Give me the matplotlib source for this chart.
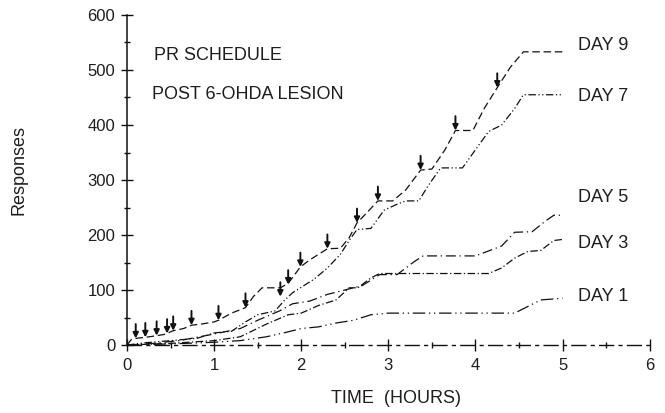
import matplotlib
matplotlib.use("Agg")
import matplotlib.pyplot as plt
from matplotlib.ticker import MultipleLocator

plt.rcParams['font.family'] = ['Liberation Sans', 'DejaVu Sans']

# ---- data (hours, cumulative responses) ----
day9_t = [0, 0.05, 0.1, 0.15, 0.21, 0.3, 0.34, 0.42, 0.46, 0.5, 0.53, 0.65, 0.74, 0.85, 1.0, 1.05,
          1.2, 1.36, 1.45, 1.55, 1.76, 1.85, 1.99, 2.1, 2.3, 2.45, 2.55, 2.64, 2.75, 2.88, 3.05,
          3.2, 3.37, 3.5, 3.65, 3.77, 3.97, 4.1, 4.25, 4.4, 4.55, 5.0]
day9_r = [0, 10, 12, 13, 14, 16, 17, 19, 21, 24, 26, 30, 36, 38, 42, 45,
          58, 68, 88, 104, 104, 112, 142, 155, 175, 176, 195, 222, 240, 262, 262,
          282, 318, 320, 355, 390, 390, 430, 468, 505, 533, 533]

day7_t = [0, 0.2, 0.5, 0.8, 1.0, 1.2, 1.36, 1.5, 1.7, 1.8, 1.9, 2.0, 2.15, 2.3, 2.45, 2.55, 2.64,
          2.8, 2.95, 3.1, 3.2, 3.35, 3.45, 3.6, 3.85, 4.0, 4.15, 4.3, 4.45, 4.55, 5.0]
day7_r = [0, 4, 8, 12, 22, 25, 42, 55, 62, 80, 95, 105, 120, 140, 165, 190, 210,
          212, 245, 256, 262, 262, 288, 322, 322, 355, 388, 400, 430, 455, 455]

day5_t = [0, 0.3, 0.6, 1.0, 1.3, 1.5, 1.75, 1.9, 2.1, 2.3, 2.5, 2.7, 2.9, 3.1, 3.3, 3.4, 4.0,
          4.3, 4.45, 4.65, 4.8, 4.9, 5.0]
day5_r = [0, 3, 8, 20, 30, 45, 62, 75, 80, 92, 100, 108, 128, 128, 152, 162, 162,
          180, 205, 206, 225, 236, 236]

day3_t = [0, 0.5, 1.0, 1.3, 1.6, 1.85, 2.0, 2.2, 2.4, 2.55, 2.65, 2.8, 2.9, 3.5, 4.15, 4.3,
          4.45, 4.6, 4.75, 4.9, 5.0]
day3_r = [0, 3, 8, 15, 38, 55, 58, 72, 82, 104, 104, 122, 130, 130, 130, 140,
          158, 170, 172, 190, 192]

day1_t = [0, 0.5, 1.0, 1.3, 1.6, 1.8, 2.0, 2.2, 2.4, 2.6, 2.8, 3.0, 4.45, 4.6, 4.75, 5.0]
day1_r = [0, 2, 5, 8, 15, 22, 30, 33, 40, 45, 55, 58, 58, 70, 82, 85]

# reinforcement arrows (time, response level at tip)
arrow_t = [0.1, 0.21, 0.34, 0.46, 0.53, 0.74, 1.05, 1.36, 1.76, 1.85, 1.99, 2.3, 2.64, 2.88,
           3.37, 3.77, 4.25]
arrow_r = [12, 14, 17, 21, 26, 36, 45, 68, 88, 110, 142, 175, 222, 262, 318, 390, 468]

labels = ["DAY 9", "DAY 7", "DAY 5", "DAY 3", "DAY 1"]
label_r = [544, 451, 269, 185, 89]

x_ticks = [0, 1, 2, 3, 4, 5, 6]
y_ticks = [0, 100, 200, 300, 400, 500, 600]

# ---- figure ----
fig = plt.figure(figsize=(6.65, 4.13), dpi=100)
ax = fig.add_axes([0.191, 0.1646, 0.786, 0.7991])

ink = '#111111'
txt = '#1e1e1e'
styles = [(0, (6, 3)), (0, (6, 2, 1, 2, 1, 2)), (0, (8, 3, 1, 3)), (0, (6, 2, 1, 2)),
          (0, (10, 3, 1, 3, 1, 3))]
series = [(day9_t, day9_r), (day7_t, day7_r), (day5_t, day5_r), (day3_t, day3_r), (day1_t, day1_r)]
for (t, r), ls in zip(series, styles):
    ax.plot(t, r, color=ink, lw=0.9, linestyle=ls)

for t, r in zip(arrow_t, arrow_r):
    ax.annotate('', xy=(t, r), xytext=(t, r + 26),
                arrowprops=dict(arrowstyle='-|>', lw=1.4, color=ink, mutation_scale=8,
                                shrinkA=0, shrinkB=0))

for lab, r in zip(labels, label_r):
    ax.text(5.18, r, lab, fontsize=13, color=txt, va='center', ha='left')

ax.text(0.31, 527, "PR SCHEDULE", fontsize=13, color=txt, va='center')
ax.text(0.29, 455, "POST 6-OHDA LESION", fontsize=13, color=txt, va='center')

ax.set_xlim(0, 6)
ax.set_ylim(0, 600)
ax.set_xticks(x_ticks)
ax.set_yticks(y_ticks)
ax.xaxis.set_minor_locator(MultipleLocator(0.5))
ax.yaxis.set_minor_locator(MultipleLocator(50))
ax.tick_params(axis='both', which='major', direction='inout', length=9, width=1, colors=ink,
               labelsize=12, labelcolor=txt)
ax.tick_params(axis='both', which='minor', direction='inout', length=5, width=1, colors=ink)
ax.tick_params(axis='x', which='major', pad=5)
ax.tick_params(axis='y', which='major', pad=4)

for s in ['top', 'right']:
    ax.spines[s].set_visible(False)
ax.spines['left'].set_color(ink)
ax.spines['left'].set_linewidth(1.1)
ax.spines['bottom'].set_color(ink)
ax.spines['bottom'].set_linewidth(1.0)
ax.spines['bottom'].set_linestyle((0, (10, 4, 2, 4)))
ax.set_facecolor('none')

ax.set_xlabel("TIME  (HOURS)", fontsize=13, color=txt)
ax.xaxis.set_label_coords(0.515, -0.135)
ax.set_ylabel("Responses", fontsize=13, color=txt)
ax.yaxis.set_label_coords(-0.19, 0.53)

fig.savefig("out.png", dpi=100, facecolor='white')
